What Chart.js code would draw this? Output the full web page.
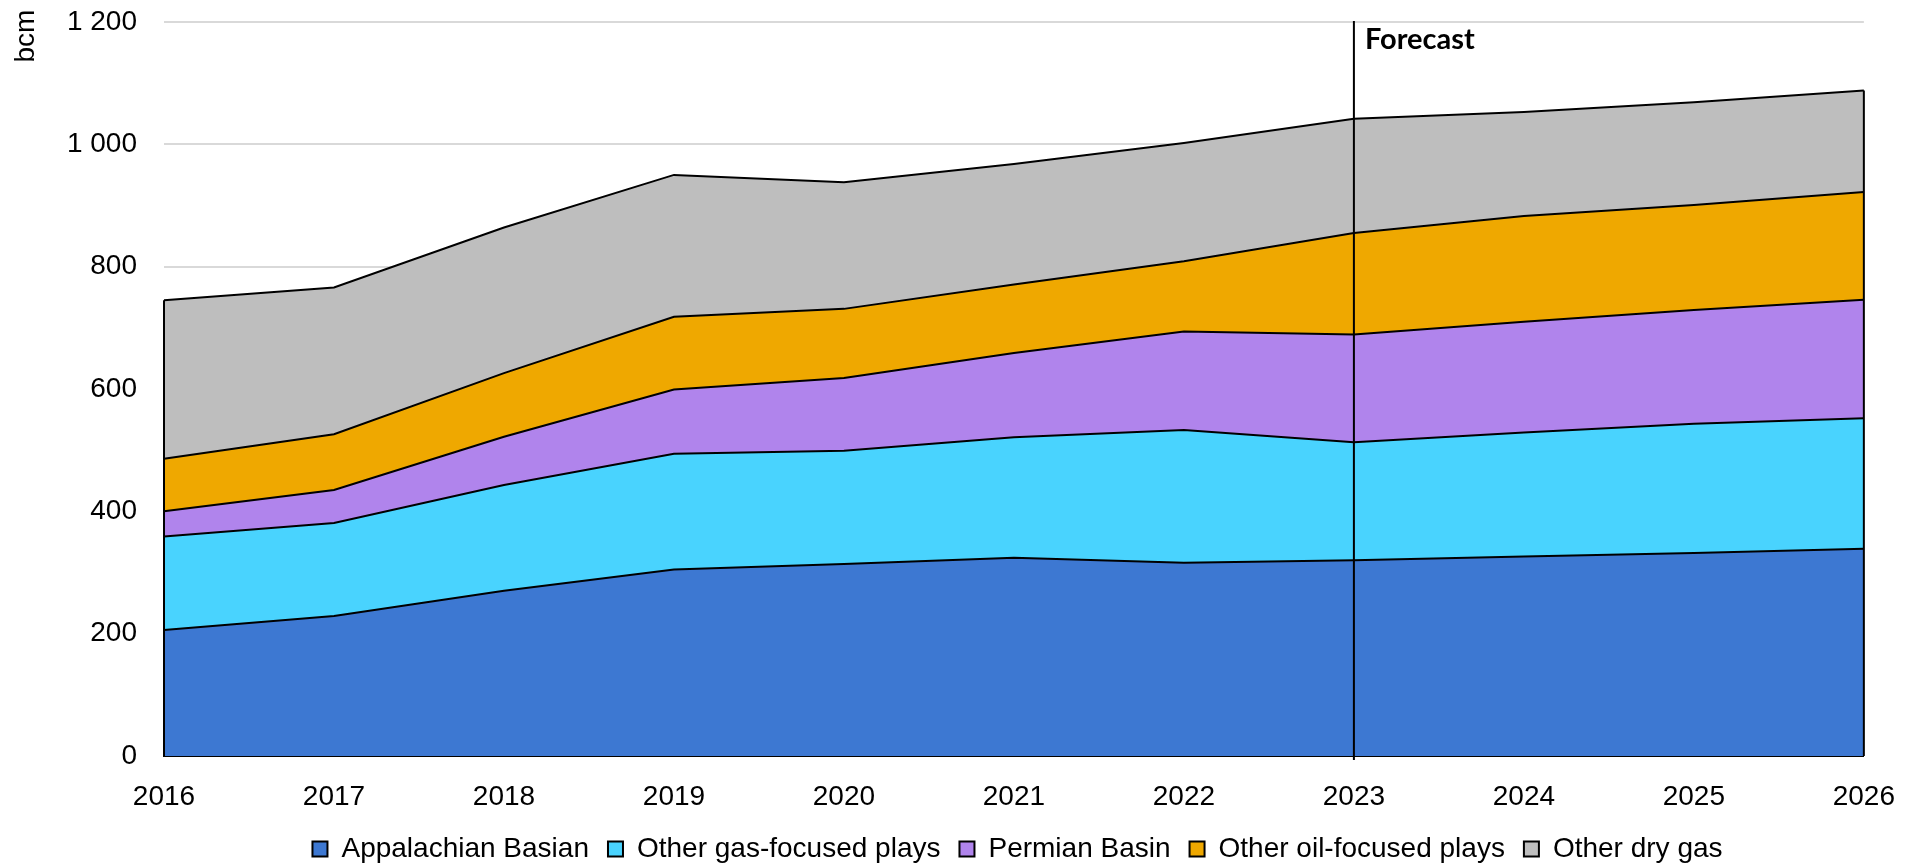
<!DOCTYPE html>
<html>
<head>
<meta charset="utf-8">
<script src="https://cdn.jsdelivr.net/npm/chart.js@4"></script>
<style>
  html, body { margin: 0; padding: 0; background: #ffffff; }
  #wrap { width: 1919px; height: 868px; position: relative; }
</style>
</head>
<body>
<div id="wrap"><canvas id="c" width="1919" height="868"></canvas></div>
<script>
const years = ['2016','2017','2018','2019','2020','2021','2022','2023','2024','2025','2026'];
const appalachian = [206, 229, 270, 305, 314, 324, 316, 320, 326, 332, 339];
const otherGas    = [153, 152, 173, 189, 185, 197, 217, 193, 203, 211, 213];
const permian     = [41, 54, 79, 105, 119, 138, 161, 176, 181, 186, 194];
const otherOil    = [86, 91, 104, 119, 113, 112, 115, 166, 173, 172, 176];
const otherDry    = [259, 240, 238, 232, 207, 197, 193, 187, 170, 168, 166];
const seriesNames = ['Appalachian Basian', 'Other gas-focused plays', 'Permian Basin', 'Other oil-focused plays', 'Other dry gas'];
const seriesColors = ['#3D78D2', '#49D3FE', '#B084EC', '#EFA800', '#BEBEBE'];
const forecastYear = '2023';
const yTicks = [0, 200, 400, 600, 800, 1000, 1200];

const FONT = "'Liberation Sans', Arial, sans-serif";
const allSeries = [appalachian, otherGas, permian, otherOil, otherDry];

const datasets = allSeries.map((d, i) => ({
  label: seriesNames[i],
  data: d,
  backgroundColor: seriesColors[i],
  borderColor: '#000000',
  borderWidth: 2,
  pointRadius: 0,
  pointHoverRadius: 0,
  tension: 0,
  fill: i === 0 ? 'origin' : '-1'
}));

const edgePlugin = {
  id: 'edges',
  afterLayout(chart) {
    if (chart.legend) { chart.legend.left += 83; chart.legend.right += 83; }
  },
  afterDatasetsDraw(chart) {
    const ctx = chart.ctx;
    const xs = chart.scales.x, ys = chart.scales.y;
    const n = years.length;
    const top = chart.getDatasetMeta(datasets.length - 1).data;
    ctx.save();
    ctx.strokeStyle = '#000';
    ctx.lineWidth = 2;
    [0, n - 1].forEach(idx => {
      const x = xs.getPixelForValue(idx);
      ctx.beginPath();
      ctx.moveTo(x, ys.getPixelForValue(0));
      ctx.lineTo(x, top[idx].y);
      ctx.stroke();
    });
    // forecast line
    const fx = xs.getPixelForValue(years.indexOf(forecastYear));
    ctx.lineWidth = 2;
    ctx.beginPath();
    ctx.moveTo(fx, chart.chartArea.top - 1);
    ctx.lineTo(fx, chart.chartArea.bottom + 4);
    ctx.stroke();
    ctx.fillStyle = '#000';
    ctx.font = "bold 29px Lato, 'Open Sans', sans-serif";
    ctx.textBaseline = 'alphabetic';
    ctx.textAlign = 'left';
    ctx.fillText('Forecast', fx + 11, chart.chartArea.top + 27);
    // unit label
    ctx.save();
    ctx.translate(34, 36);
    ctx.rotate(-Math.PI / 2);
    ctx.textAlign = 'center';
    ctx.textBaseline = 'alphabetic';
    ctx.font = '28px ' + FONT;
    ctx.fillText('bcm', 0, 0);
    ctx.restore();
    ctx.restore();
  }
};

new Chart(document.getElementById('c'), {
  type: 'line',
  data: { labels: years, datasets },
  options: {
    responsive: false,
    animation: false,
    events: [],
    layout: { padding: { top: 0, right: 50, left: 0, bottom: -5 } },
    plugins: {
      legend: {
        position: 'bottom',
        labels: {
          font: { family: FONT, size: 28 },
          color: '#000',
          boxWidth: 15,
          boxHeight: 15,
          padding: 19
        }
      },
      tooltip: { enabled: false }
    },
    scales: {
      x: {
        offset: false,
        afterFit(scale) { scale.height = 60; },
        grid: { display: false, drawTicks: false },
        border: { display: true, color: '#000', width: 2 },
        ticks: { font: { family: FONT, size: 28 }, color: '#000', padding: 24, maxRotation: 0, autoSkip: false }
      },
      y: {
        stacked: true,
        min: 0,
        max: 1200,
        afterBuildTicks(scale) { scale.ticks = yTicks.map(v => ({ value: v })); },
        afterFit(scale) { scale.width = 164; scale.paddingTop = 22; scale.paddingBottom = 0; },
        grid: { color: '#D9D9D9', lineWidth: 2, drawTicks: false },
        border: { display: false },
        ticks: {
          font: { family: FONT, size: 28 },
          color: '#000',
          padding: 27,
          callback: v => String(v).replace(/\B(?=(\d{3})+(?!\d))/g, ' ')
        }
      }
    }
  },
  plugins: [edgePlugin]
});
</script>
</body>
</html>
